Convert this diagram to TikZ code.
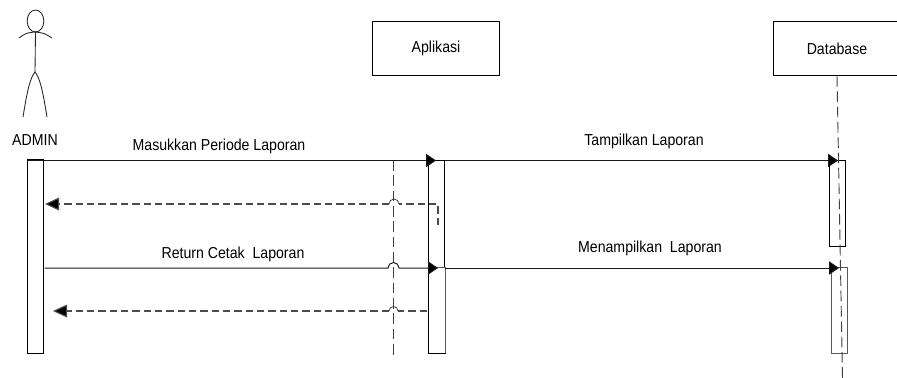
\documentclass[tikz,border=0pt]{standalone}
\usepackage{fontspec}
\setmainfont[FakeStretch=0.89]{Liberation Sans}
\usetikzlibrary{arrows.meta,shapes.geometric}
\tikzset{x=0.75pt,y=-0.75pt,
 box/.style={draw=black,line width=0.7pt,fill=white,inner sep=0pt,text=black,font=\fontsize{11.9}{13}\selectfont},
 bar/.style={draw=black,line width=0.7pt,fill=white,inner sep=0pt,outer sep=0pt},
 msg/.style={draw=black!90,line width=0.75pt,-{Triangle[length=7.5pt,width=10pt,fill=black]}},
 ret/.style={draw=black!70,line width=0.8pt,dash pattern=on 5.5pt off 3pt,-{Triangle[length=10.5pt,width=9.5pt,fill=black]}},
 retp/.style={draw=black!70,line width=0.8pt,dash pattern=on 5.5pt off 3pt},
 dsh/.style={draw=black!75,line width=0.7pt,dash pattern=on 8pt off 3.5pt},
 lbl/.style={inner sep=0pt,text=black,font=\fontsize{11.9}{13}\selectfont},
 fig/.style={draw=black!85,line width=0.65pt}}
\begin{document}
\begin{tikzpicture}
\useasboundingbox (0,0) rectangle (897,378);
% actor
\node[fig,draw,ellipse,minimum width=12.5pt,minimum height=16.5pt,inner sep=0pt,outer sep=0pt] (head) at (35.5,21) {};
\coordinate (neck) at (35,32);
\coordinate (hip) at (35,72);
\coordinate (handl) at (19,38);
\coordinate (handr) at (52,38);
\coordinate (footl) at (23,117);
\coordinate (footr) at (47,117);
\draw[fig] (handl) .. controls (26,33) .. (neck) .. controls (44,33) .. (handr);
\draw[fig] (head.south) -- (hip);
\draw[fig] (footl) .. controls (27,92) and (30,78) .. (hip) .. controls (40,78) and (43,92) .. (footr);
\node[lbl] (admin) at (35,140) {ADMIN};
% objects
\node[box,minimum width=95.5pt,minimum height=40.5pt] (apl) at (436,48.5) {Aplikasi};
\node[box,minimum width=95.5pt,minimum height=40.5pt] (db) at (837,48.5) {Database};
% lifelines
\coordinate (l1t) at (393.5,160);
\coordinate (l1b) at (393.5,355);
\coordinate (l2b) at (842.5,378);
\draw[dsh] (l1t) -- (l1b);
% activations
\node[bar,minimum width=12pt,minimum height=145pt] (a) at (35.5,256.5) {};
\node[bar,minimum width=12pt,minimum height=80.625pt] (b1) at (436.5,214.25) {};
\node[bar,draw=black!65,minimum width=13pt,minimum height=64pt] (b2) at (437.2,310.5) {};
\draw[line width=0.7pt,draw=black] (b2.north west) -- (b2.south west) -- (b2.south east);
\node[bar,minimum width=12pt,minimum height=64.5pt] (c1) at (837.5,203.5) {};
\node[bar,draw=black!65,minimum width=12pt,minimum height=64pt] (c2) at (839,310.5) {};
\draw[dsh] (db.south) -- (l2b);
% messages
\coordinate (m1a) at (27.5,160.5);
\coordinate (m1b) at (436,160.5);
\coordinate (m2b) at (838,160.5);
\coordinate (m3a) at (44.5,268);
\coordinate (m3b) at (438,268);
\coordinate (m4b) at (839,268);
\draw[msg] (m1a) -- (m1b);
\draw[msg] (b1.north east) -- (m2b);
\draw[msg] (m3a) -- (388,268) arc[start angle=180,end angle=360,radius=5.5] -- (m3b);
\draw[msg] (b1.south east) -- (m4b);
% returns
\coordinate (r1s) at (438,225);
\coordinate (r1c) at (438,204);
\coordinate (r1e) at (45,204);
\coordinate (r2s) at (427,311);
\coordinate (r2e) at (53,311);
\draw[retp] (r1s) -- (r1c) -- (399,204);
\draw[fig,line width=0.5pt] (399,204) arc[start angle=0,end angle=-180,radius=5];
\draw[ret] (389,204) -- (r1e);
\draw[retp] (r2s) -- (398,311);
\draw[fig,line width=0.5pt] (398,311) arc[start angle=0,end angle=-180,radius=4.5];
\draw[ret] (389,311) -- (r2e);
% labels
\node[lbl] (t1) at (219,146) {Masukkan Periode Laporan};
\node[lbl] (t2) at (644,141.5) {Tampilkan Laporan};
\node[lbl] (t3) at (233,254) {Return Cetak\ \ Laporan};
\node[lbl] (t4) at (650,248.5) {Menampilkan\ \ Laporan};
\end{tikzpicture}
\end{document}
